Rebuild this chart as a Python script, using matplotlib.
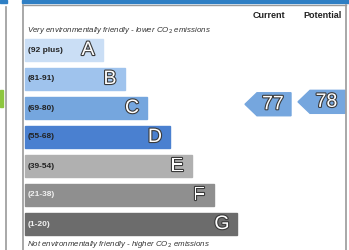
import matplotlib
matplotlib.use("Agg")
import matplotlib.pyplot as plt
import matplotlib.patheffects as pe
from matplotlib.patches import Rectangle, Polygon

plt.rcParams['font.family'] = ['Liberation Sans', 'DejaVu Sans']

# ------ data
letters = ["A", "B", "C", "D", "E", "F", "G"]
ranges = ["(92 plus)", "(81-91)", "(69-80)", "(55-68)", "(39-54)", "(21-38)", "(1-20)"]
band_low = [92, 81, 69, 55, 39, 21, 1]
band_high = [100, 91, 80, 68, 54, 38, 20]
bar_ends = [103, 125, 147, 170, 192, 214, 237]
colors = ["#cadef5", "#9fc3ed", "#75a6de", "#4a80d0", "#b0b0b0", "#8f8f8f", "#6c6c6c"]
label_colors = ["#222222", "#222222", "#222222", "#222222", "#222222", "#f0f0f0", "#f0f0f0"]
current = 77
potential = 78

# ------ figure in pixel coordinates
fig = plt.figure(figsize=(3.49, 2.5), dpi=100)
ax = fig.add_axes([0, 0, 1, 1])
ax.set_xlim(0, 349)
ax.set_ylim(250, 0)
ax.axis("off")

# left neighbour panel (cropped)
ax.add_patch(Rectangle((0, 0), 7, 3, color="#2f7fc4"))
ax.plot([6, 6], [7, 250], color="#9a9a9a", lw=1.2)
ax.add_patch(Rectangle((0, 90), 3, 17, color="#8dc63f"))

# main panel frame
ax.add_patch(Rectangle((22, 0), 327, 3, color="#2f7fc4"))
ax.plot([23, 23], [5, 250], color="#9a9a9a", lw=1.2)
ax.plot([23, 346], [5, 5], color="#9a9a9a", lw=1.0)
ax.plot([346, 346], [5, 250], color="#9a9a9a", lw=1.2)

outline = [pe.Stroke(linewidth=1.6, foreground="#3a3a3a"), pe.Normal()]

top0 = 39
step = 29
h = 22
for i, (let, rng, end, col, lc) in enumerate(zip(letters, ranges, bar_ends, colors, label_colors)):
    y = top0 + i * step
    ax.add_patch(Rectangle((25, y), end - 25, h, color=col))
    ax.text(28, y + h / 2, rng, fontsize=6, fontweight="bold", color=lc,
            ha="left", va="center")
    ax.text(end - 15, y + h / 2 + 0.5, let, fontsize=14, color="white",
            ha="center", va="center", path_effects=outline)

ax.text(27, 31, "Very environmentally friendly - lower CO$_2$ emissions",
        fontsize=5.7, style="italic", color="#333333", ha="left", va="center")
ax.text(27, 244, "Not environmentally friendly - higher CO$_2$ emissions",
        fontsize=5.7, style="italic", color="#333333", ha="left", va="center")

ax.text(269, 15, "Current", fontsize=6.5, fontweight="bold", color="#222222",
        ha="center", va="center")
ax.text(322, 15, "Potential", fontsize=6.5, fontweight="bold", color="#222222",
        ha="center", va="center")


def value_y(v):
    for i, (lo, hi) in enumerate(zip(band_low, band_high)):
        if lo <= v <= hi:
            return top0 + i * step + (hi - v) / (hi - lo + 1) * step
    return top0


def arrow(x_tip, x_end, v):
    yc = value_y(v)
    ah = 23
    pts = [(x_tip, yc), (x_tip + 12, yc - ah / 2), (x_end, yc - ah / 2),
           (x_end, yc + ah / 2), (x_tip + 12, yc + ah / 2)]
    ax.add_patch(Polygon(pts, closed=True, color="#75a6de"))
    ax.text((x_tip + 10 + x_end) / 2, yc + 0.5, str(v), fontsize=14, color="white",
            ha="center", va="center", path_effects=outline)


arrow(245, 291, current)
arrow(298, 345, potential)

fig.savefig("out.png", dpi=100)
